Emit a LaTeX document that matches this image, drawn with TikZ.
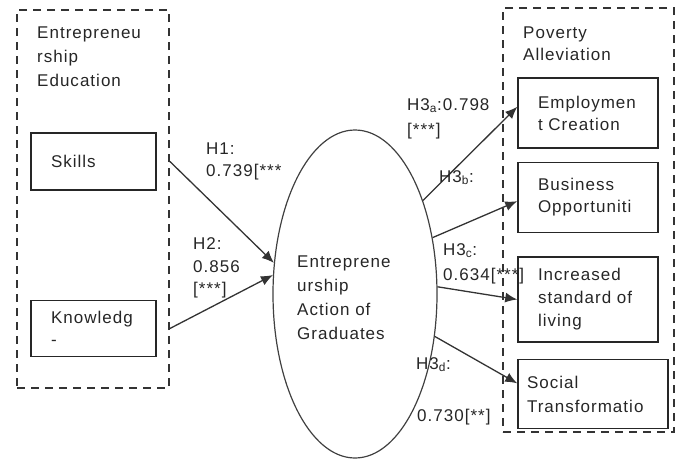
\documentclass[tikz,border=0pt]{standalone}
\usepackage{fontspec}
\setmainfont{Liberation Sans}[LetterSpace=6]
\usetikzlibrary{arrows.meta,positioning,shapes.geometric}
\hyphenpenalty=10000
\exhyphenpenalty=10000

\begin{document}
\begin{tikzpicture}[
  x=1pt, y=-1pt,
  font=\fontsize{17}{22}\selectfont,
  text=black!85,
  node distance=13pt and 20pt,
  grp/.style={draw=black!80, line width=1.8pt, dash pattern=on 8pt off 6pt, inner sep=0pt},
  box/.style={draw=black!85, line width=1.5pt, align=left, inner xsep=20pt, inner ysep=0pt},
  lbl/.style={anchor=north west, inner sep=0pt, align=left},
  arr/.style={-{Latex[length=12pt,width=10pt]}, line width=1.3pt, draw=black!80}
  ]
  \useasboundingbox (0,0) rectangle (683,461);

  \node[grp, minimum width=152pt, minimum height=378pt] (edu) at (93,199) {};
  \node[lbl, font=\fontsize{17}{24}\selectfont] (edutitle) at (37,27) {Entrepreneu\\rship\\Education};
  \node[box, text width=85pt, minimum height=57pt] (skills) at (93.5,161.5) {Skills};
  \node[box, text width=85pt, minimum height=56pt, below=109pt of skills] (know) {Knowledg\\-};

  \node[draw=black!75, line width=1.2pt, ellipse, minimum width=164pt, minimum height=328pt, inner sep=0pt] (act) at (355,294) {};
  \node[lbl, font=\fontsize{17}{23.7}\selectfont] (acttxt) at (297,256) {Entreprene\\urship\\Action of\\Graduates};

  \node[grp, minimum width=171pt, minimum height=424pt] (pov) at (588.5,220) {};
  \node[lbl, font=\fontsize{17}{21.5}\selectfont] (povtitle) at (523,27) {Poverty\\Alleviation};
  \node[box, text width=100pt, minimum height=70pt] (emp) at (588,113) {Employmen\\t Creation};
  \node[box, text width=100pt, minimum height=70pt, below=of emp] (bus) {Business\\Opportuniti};
  \node[box, text width=100pt, minimum height=85pt, below=23pt of bus, font=\fontsize{17}{23}\selectfont] (inc) {Increased\\standard of\\living};
  \node[box, text width=132pt, inner xsep=9pt, minimum height=69pt, below=16pt of inc.south west, anchor=north west, font=\fontsize{17}{24}\selectfont] (soc) {Social\\Transformatio};

  \draw[arr] (skills.east -| edu.east) -- (act.159);
  \draw[arr] (know.east -| edu.east) -- (act.167);
  \draw[arr] (act.54) -- (emp.175);
  \draw[arr] (act.36) -- (bus.183);
  \draw[arr] (act.5) -- (inc.west);
  \draw[arr] (act.-28) -- (soc.172);

  \node[lbl] (h1) at (206,143) {H1:\\0.739[***};
  \node[lbl] (h2) at (193,237) {H2:\\[1pt]0.856\\{[***]}};
  \node[lbl] (h3a) at (407,98) {H3\textsubscript{a}:0.798\\[3pt]{[***]}};
  \node[lbl] (h3b) at (439,170) {H3\textsubscript{b}:};
  \node[lbl] (h3c) at (443,243) {H3\textsubscript{c}:\\[3pt]0.634[***]};
  \node[lbl] (h3d) at (416,357) {H3\textsubscript{d}:};
  \node[lbl] (h3dval) at (417,409) {0.730[**]};
\end{tikzpicture}
\end{document}
